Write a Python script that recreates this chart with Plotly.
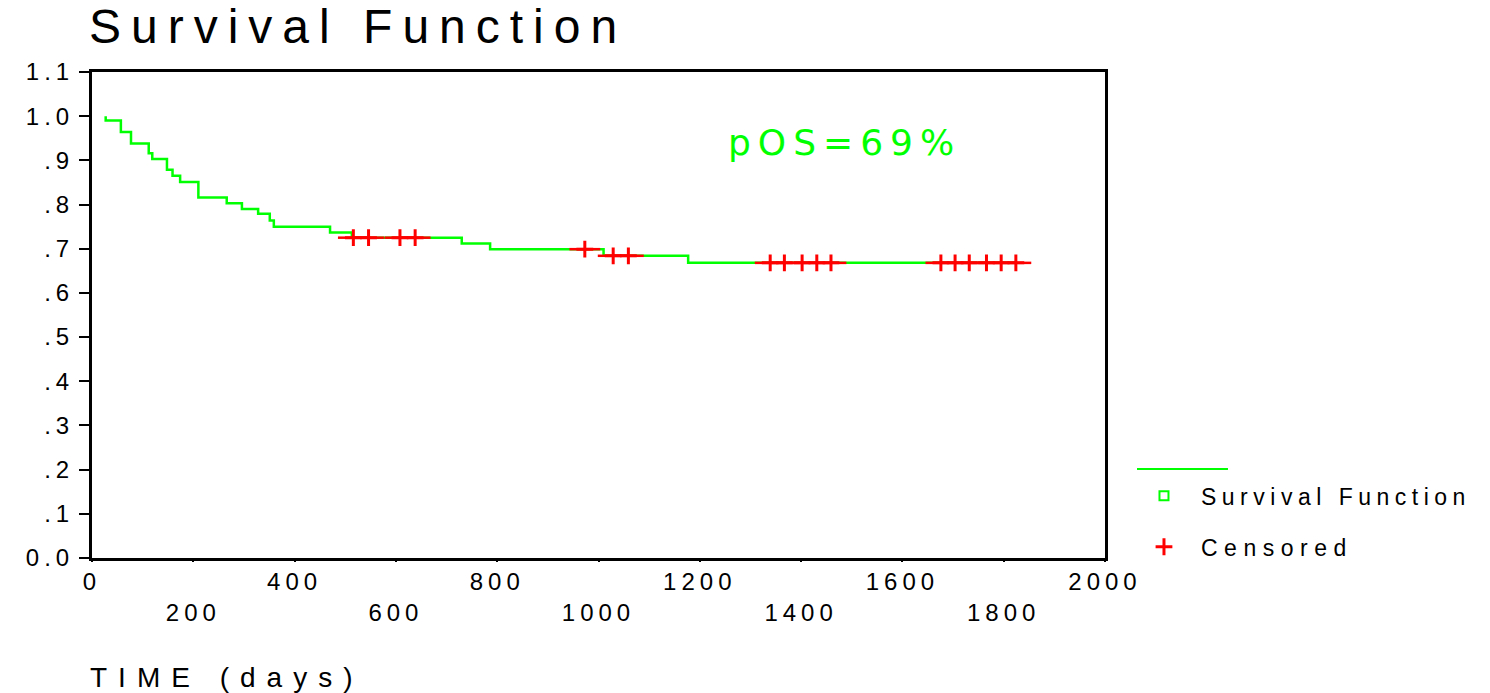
import numpy as np
import plotly.graph_objects as go

# Kaplan-Meier step curve: time (days) and cumulative survival
curve_time = [27, 27, 57, 77, 112, 119, 148, 159, 174, 210, 266, 296, 328,
              351, 359, 470, 513, 730, 786, 1010, 1177, 1824]
curve_surv = [1.000, 0.990, 0.964, 0.938, 0.916, 0.903, 0.879, 0.865, 0.851,
              0.816, 0.803, 0.790, 0.779, 0.764, 0.750, 0.737, 0.725, 0.712,
              0.699, 0.684, 0.668, 0.668]

# Censored observations (days)
censor_time = [516, 546, 608, 638, 973, 1029, 1059, 1339, 1367, 1402, 1431,
               1459, 1676, 1704, 1732, 1766, 1795, 1824]

# Axis ticks
x_tick_vals = [0, 200, 400, 600, 800, 1000, 1200, 1400, 1600, 1800, 2000]
x_major_vals = [0, 400, 800, 1200, 1600, 2000]
x_minor_vals = [200, 600, 1000, 1400, 1800]
y_tick_vals = [0.0, 0.1, 0.2, 0.3, 0.4, 0.5, 0.6, 0.7, 0.8, 0.9, 1.0, 1.1]
y_tick_text = ["0.0", ".1", ".2", ".3", ".4", ".5", ".6", ".7", ".8", ".9",
               "1.0", "1.1"]

GREEN = "#00FF00"
RED = "#FF0000"
FONT = "Liberation Sans"


def spaced(text, px):
    return f'<span style="letter-spacing:{px}px">{text}</span>'


# survival value at each censoring time
ct = np.array(curve_time)
cs = np.array(curve_surv)
censor_surv = [float(cs[np.searchsorted(ct, t, side="right") - 1]) for t in censor_time]

fig = go.Figure()

fig.add_trace(go.Scatter(
    x=curve_time, y=curve_surv, mode="lines",
    line=dict(color=GREEN, width=2.5, shape="hv"),
    showlegend=False, hoverinfo="skip",
))

# wide horizontal arms of the censoring ticks
fig.add_trace(go.Scatter(
    x=censor_time, y=censor_surv, mode="markers",
    marker=dict(symbol="line-ew-open", size=22, color=RED,
                line=dict(color=RED, width=2.5)),
    showlegend=False, hoverinfo="skip",
))

# legend entry for the survival function
fig.add_trace(go.Scatter(
    x=[None], y=[None], mode="markers",
    name=spaced("Survival Function", 5.5),
    marker=dict(symbol="square-open", size=9, color=GREEN,
                line=dict(color=GREEN, width=2)),
    legendgroup="a",
))

fig.add_trace(go.Scatter(
    x=censor_time, y=censor_surv, mode="markers",
    name=spaced("Censored", 6.5),
    marker=dict(symbol="cross-thin-open", size=12, color=RED,
                line=dict(color=RED, width=3)),
    legendgroup="b",
))

# bottom axis: first row of labels (0, 400, ... 2000), no tick marks of its own
# second axis: tick marks at every 200 days, labels for the in-between values
minor_text = [spaced(str(v), 5) if v in x_minor_vals else "" for v in x_tick_vals]

fig.update_layout(
    width=1490, height=693,
    margin=dict(l=92, r=385, t=72, b=135),
    paper_bgcolor="white", plot_bgcolor="white",
    font=dict(family=FONT, color="black", size=23),
    showlegend=True,
    legend=dict(
        x=1.0217, y=0.172, xanchor="left", yanchor="top",
        font=dict(family=FONT, size=23, color="black"),
        tracegroupgap=18, traceorder="grouped", itemwidth=64,
        bgcolor="rgba(0,0,0,0)",
    ),
    xaxis=dict(
        range=[0, 2000], showgrid=False, zeroline=False,
        showline=True, linecolor="black", linewidth=3, mirror=True,
        tickvals=x_major_vals,
        ticktext=[spaced(str(v), 5) for v in x_major_vals],
        ticks="", tickfont=dict(family=FONT, size=24),
        ticklabelstandoff=0,
    ),
    xaxis2=dict(
        range=[0, 2000], overlaying="x", anchor="y", side="bottom",
        showgrid=False, zeroline=False, showline=False,
        tickvals=x_tick_vals, ticktext=minor_text,
        ticks="outside", ticklen=3, tickwidth=2, tickcolor="black",
        tickfont=dict(family=FONT, size=24),
        ticklabelstandoff=30,
    ),
    yaxis=dict(
        range=[0, 1.1], showgrid=False, zeroline=False,
        showline=True, linecolor="black", linewidth=3, mirror=True,
        tickvals=y_tick_vals,
        ticktext=[spaced(t, 5) for t in y_tick_text],
        ticks="outside", ticklen=10, tickwidth=2, tickcolor="black",
        tickfont=dict(family=FONT, size=24),
    ),
    shapes=[
        # legend line sample for the survival curve
        dict(type="line", xref="paper", yref="paper",
             x0=1.0316, x1=1.1214, y0=0.183, y1=0.183,
             line=dict(color=GREEN, width=2)),
    ],
    annotations=[
        dict(text=spaced("Survival Function", 10), xref="paper", yref="paper",
             x=-0.005, y=1.0 + (72 - 26) / 486, xanchor="left", yanchor="middle",
             showarrow=False, font=dict(family=FONT, size=48, color="black")),
        dict(text=spaced("TIME (days)", 11), xref="paper", yref="paper",
             x=-0.004, y=-(677 - 558) / 486, xanchor="left", yanchor="middle",
             showarrow=False, font=dict(family=FONT, size=28, color="black")),
        dict(text=spaced("pOS=69%", 7), xref="paper", yref="paper",
             x=0.7433, y=(558 - 142) / 486, xanchor="center", yanchor="middle",
             showarrow=False, font=dict(family="DejaVu Sans", size=36, color=GREEN)),
    ],
)

# secondary axis carries the intermediate tick labels; give it a hidden trace
fig.add_trace(go.Scatter(x=[None], y=[None], xaxis="x2", showlegend=False,
                         hoverinfo="skip"))

fig.write_html("out.html")
